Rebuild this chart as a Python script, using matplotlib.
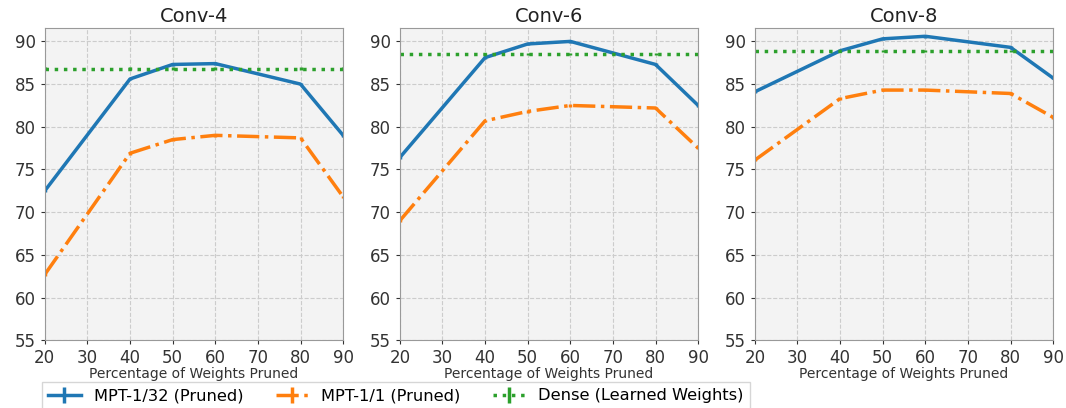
import matplotlib.pyplot as plt
import numpy as np

pruned = [20, 40, 50, 60, 80, 90]
titles = ["Conv-4", "Conv-6", "Conv-8"]

mpt_32 = [
    [72.5, 85.6, 87.3, 87.4, 85.0, 79.0],
    [76.4, 88.1, 89.7, 90.0, 87.3, 82.5],
    [84.1, 88.9, 90.3, 90.6, 89.3, 85.7],
]
mpt_1 = [
    [62.7, 76.9, 78.5, 79.0, 78.7, 71.8],
    [69.0, 80.7, 81.8, 82.5, 82.2, 77.5],
    [76.1, 83.3, 84.3, 84.3, 83.9, 81.1],
]
dense = [86.8, 88.5, 88.9]

fig, axes = plt.subplots(1, 3, figsize=(10.66, 4.08), dpi=100)
plt.subplots_adjust(left=0.042, right=0.988, top=0.932, bottom=0.166, wspace=0.19)

for i, ax in enumerate(axes):
    ax.set_facecolor("#f3f3f3")
    h1 = ax.errorbar(pruned, mpt_32[i], yerr=0.15, color="tab:blue", linestyle="-",
                     linewidth=2.5, label="MPT-1/32 (Pruned)")
    h2 = ax.errorbar(pruned, mpt_1[i], yerr=0.15, color="tab:orange", linestyle="-.",
                     linewidth=2.5, label="MPT-1/1 (Pruned)")
    h3 = ax.errorbar(pruned, [dense[i]] * len(pruned), yerr=0.15, color="tab:green",
                     linestyle=":", linewidth=2.5, label="Dense (Learned Weights)")
    ax.set_xlim(20, 90)
    ax.set_ylim(55, 91.6)
    ax.set_xticks(range(20, 91, 10))
    ax.set_yticks(range(55, 91, 5))
    ax.tick_params(labelsize=12, colors="#333333", length=3)
    ax.grid(True, linestyle="--", color="#cccccc", linewidth=0.8)
    ax.set_xlabel("Percentage of Weights Pruned", fontsize=10, color="#333333", labelpad=0)
    ax.set_title(titles[i], fontsize=14, color="#222222", pad=4)
    for s in ax.spines.values():
        s.set_color("#999999")

leg = fig.legend([h1, h2, h3], ["MPT-1/32 (Pruned)", "MPT-1/1 (Pruned)", "Dense (Learned Weights)"],
                 loc="upper left", bbox_to_anchor=(0.039, 0.064), borderaxespad=0, ncol=3,
                 fontsize=11.7, frameon=True, fancybox=False, edgecolor="#cccccc",
                 columnspacing=2.0, handlelength=2.0)
for line in leg.get_lines():
    line.set_linewidth(2)

plt.savefig("out.png", dpi=100)
